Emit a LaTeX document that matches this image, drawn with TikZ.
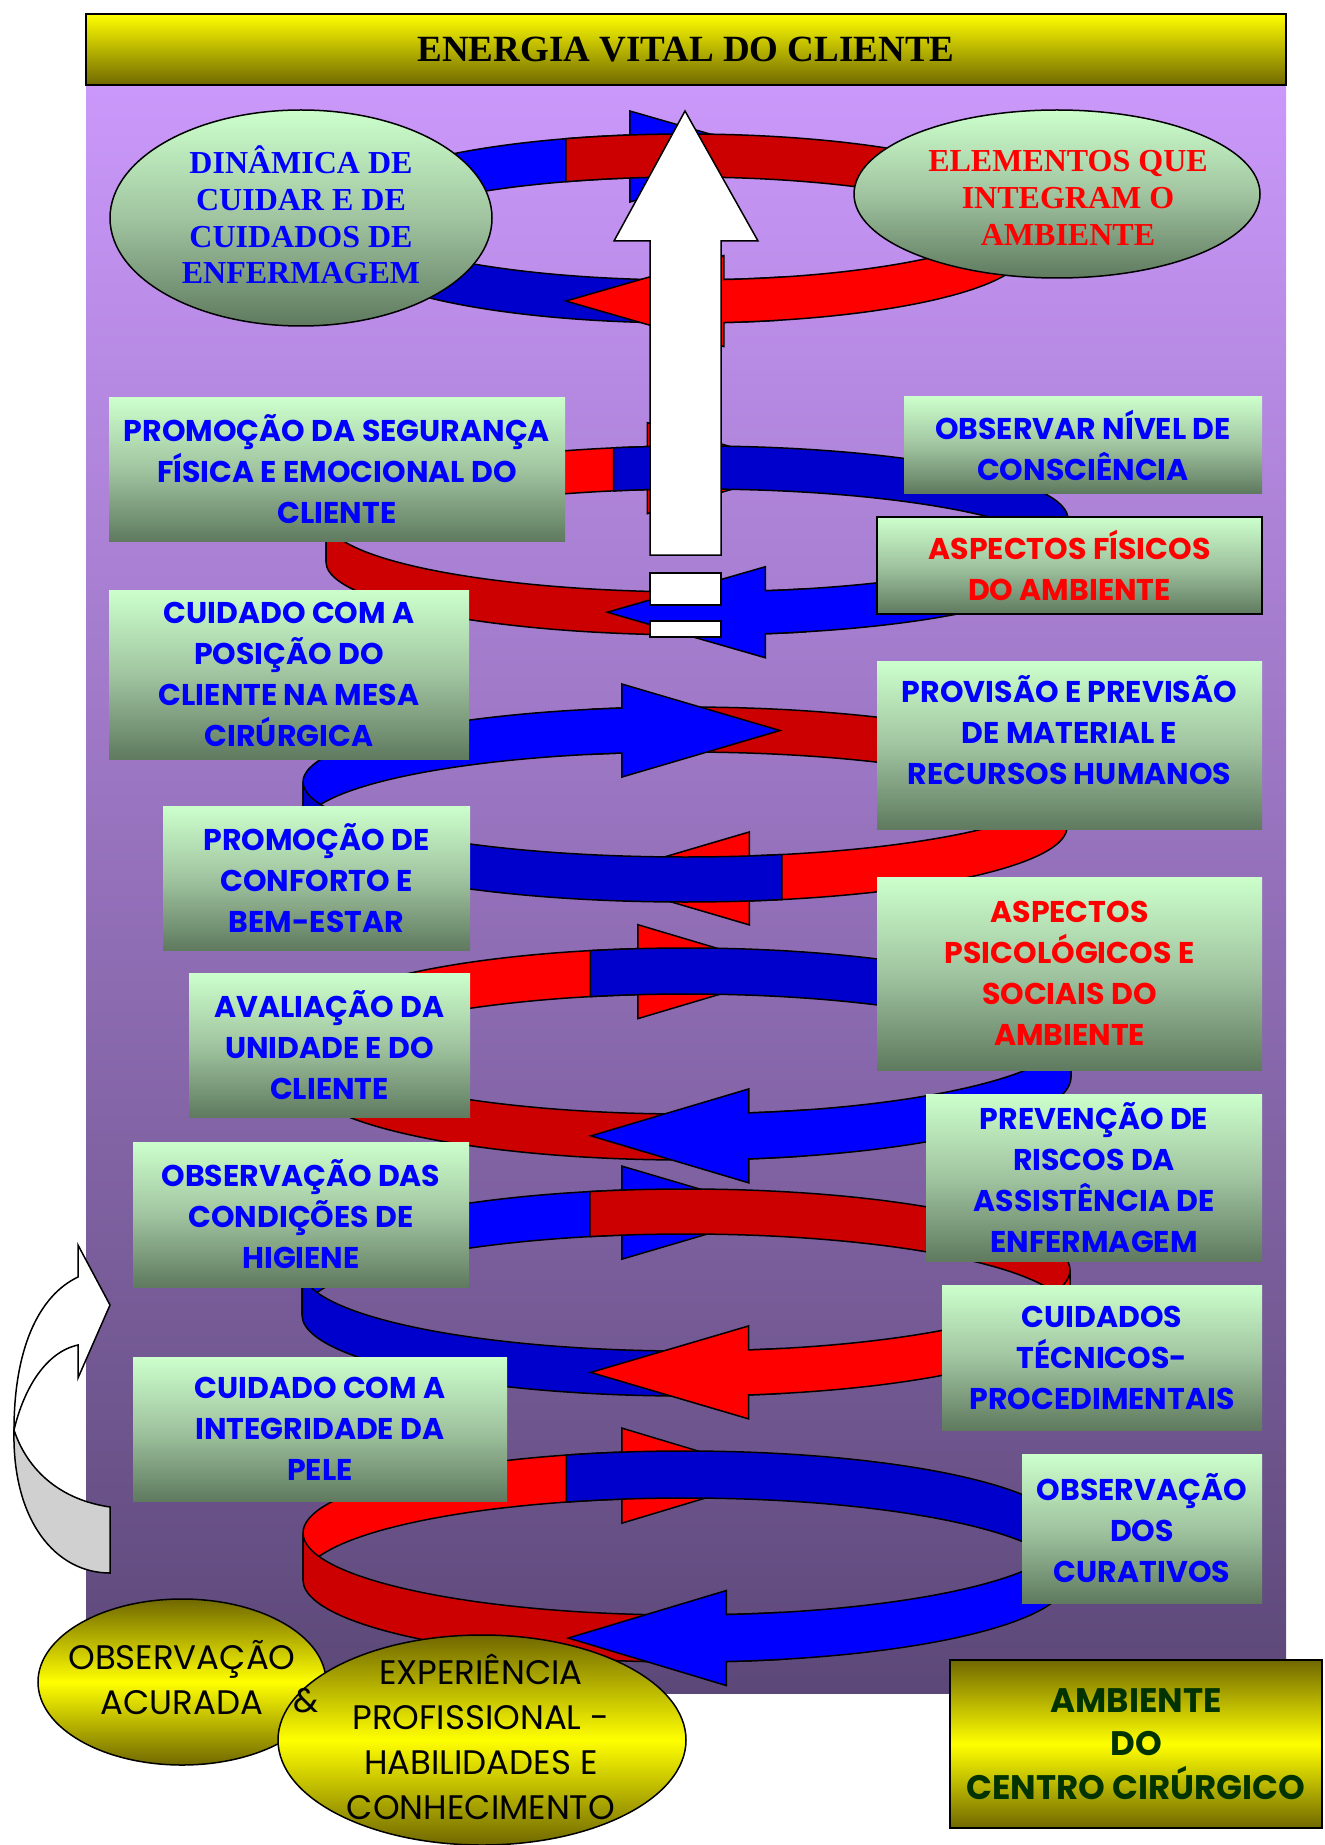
\documentclass[tikz,border=0pt]{standalone}
\usepackage{fontspec}
\setmainfont{Liberation Serif}
\newfontfamily\comicfont{Poppins}
\definecolor{grtop}{RGB}{204,255,204}
\definecolor{grmid}{RGB}{160,196,160}
\definecolor{grbot}{RGB}{95,122,95}
\definecolor{yeltop}{RGB}{255,255,0}
\definecolor{olive}{RGB}{112,104,0}
\definecolor{purtop}{RGB}{202,152,250}
\definecolor{purbot}{RGB}{92,72,120}
\definecolor{blueA}{RGB}{0,0,255}
\definecolor{blueB}{RGB}{0,0,204}
\definecolor{redA}{RGB}{255,0,0}
\definecolor{redB}{RGB}{204,0,0}
\definecolor{darkgreen}{RGB}{0,51,0}
\definecolor{lightgray}{RGB}{208,208,208}

% one loop of the spiral: centre, radii and height of the band
\newcommand{\setloop}[5]{\def\Lcx{#1}\def\Lcy{#2}\def\La{#3}\def\Lb{#4}\def\Lw{#5}}
\newcommand{\belt}[3]{%
  \draw[belt, fill=#3] ({\Lcx+\La*cos(#1)},{\Lcy+\Lb*sin(#1)})
    arc[start angle=#1, end angle=#2, x radius=\La, y radius=\Lb]
    -- ++(0,\Lw)
    arc[start angle=#2, end angle=#1, x radius=\La, y radius=\Lb] -- cycle;}
\newcommand{\beltarrow}[4]{%
  \draw[belt, fill=#3] ({\Lcx+\La*cos(#1)},{\Lcy+\Lb*sin(#1)})
    arc[start angle=#1, end angle=#2, x radius=\La, y radius=\Lb]
    -- ++(0,-24) -- ++({(#4)*158},{24+\Lw/2}) -- ++({(-1)*(#4)*158},{24+\Lw/2}) -- ++(0,-24)
    arc[start angle=#2, end angle=#1, x radius=\La, y radius=\Lb] -- cycle;}

\newcommand{\boxfont}{\comicfont\bfseries\fontsize{15}{20.5}\selectfont}

\begin{document}
\begin{tikzpicture}[x=0.5pt, y=-0.5pt,
    belt/.style={draw=black, line width=0.75pt, line join=miter},
    greenbox/.style={rectangle, inner sep=0pt, top color=grtop, bottom color=grbot,
      middle color=grmid, align=center, text=blueA, font=\boxfont},
    greenoval/.style={draw=black, line width=0.75pt, top color=grtop, bottom color=grbot,
      middle color=grmid},
    yellowoval/.style={draw=black, line width=0.75pt, top color=olive, bottom color=olive,
      middle color=yeltop},
    ovaltext/.style={align=center, font=\bfseries\fontsize{16}{18.4}\selectfont},
    whitearrow/.style={draw=black, line width=0.75pt, fill=white}]
  \useasboundingbox (0,0) rectangle (1324,1845);

  % Background
  \shade[top color=purtop, bottom color=purbot] (86,85) rectangle (1286,1693);
  \node[draw=black, line width=1pt, minimum width=600pt, minimum height=35.5pt,
    top color=yeltop, bottom color=olive,
    font=\bfseries\fontsize{18.5}{22}\selectfont] (energia) at (686,49.5) {ENERGIA VITAL DO CLIENTE};

  % Spiral
  \setloop{686}{207}{340}{73}{43}
  \beltarrow{180}{260.5}{blueA}{1}
  \belt{249.3}{360}{redB}
  \belt{73.8}{180}{blueB}
  \beltarrow{360}{443.6}{redA}{-1}

  \setloop{697}{519}{371}{73}{43}
  \beltarrow{180}{262.3}{redA}{1}
  \belt{257}{360}{blueB}
  \belt{73}{180}{redB}
  \beltarrow{360}{439.4}{blueA}{-1}

  \setloop{685}{782}{382}{75}{45}
  \belt{255.6}{360}{redB}
  \beltarrow{180}{260.5}{blueA}{1}
  \beltarrow{360}{440.3}{redA}{-1}
  \belt{75.3}{180}{blueB}

  \setloop{686}{1031}{385}{83}{46}
  \beltarrow{180}{262.8}{redA}{1}
  \belt{255.6}{360}{blueB}
  \belt{72}{180}{redB}
  \beltarrow{360}{440.6}{blueA}{-1}

  \setloop{686}{1270}{384}{81}{45}
  \beltarrow{180}{260.4}{blueA}{1}
  \belt{255.5}{360}{redB}
  \belt{75.7}{180}{blueB}
  \beltarrow{360}{440.6}{redA}{-1}

  \setloop{685}{1533}{382}{82}{47}
  \beltarrow{180}{260.5}{redA}{1}
  \belt{251.9}{360}{blueB}
  \belt{75.5}{180}{redB}
  \beltarrow{360}{443.8}{blueA}{-1}

  % Energy arrow
  \draw[whitearrow] (685,111) -- (758,241) -- (721,241) -- (721,555) -- (650,555)
    -- (650,241) -- (614,241) -- cycle;
  \draw[whitearrow] (650,573) rectangle (721,605);
  \draw[whitearrow] (650,621) rectangle (721,637);

  % Top ellipses
  \draw[greenoval] (301,218) ellipse[x radius=191, y radius=108];
  \node[ovaltext, text=blueA] (dinamica) at (301,215) {DINÂMICA DE\\CUIDAR E DE\\CUIDADOS DE\\ENFERMAGEM};
  \draw[greenoval] (1057,194) ellipse[x radius=203, y radius=84];
  \node[ovaltext, text=redA] (elementos) at (1068,198) {ELEMENTOS QUE\\INTEGRAM O\\AMBIENTE};

  % Left boxes
  \node[greenbox, minimum width=228pt, minimum height=71.5pt] (seguranca) at (337,469.5)
    {PROMOÇÃO DA SEGURANÇA\\FÍSICA E EMOCIONAL DO\\CLIENTE};
  \node[greenbox, minimum width=180pt, minimum height=84.5pt] (posicao) at (289,674.5)
    {CUIDADO COM A\\POSIÇÃO DO\\CLIENTE NA MESA\\CIRÚRGICA};
  \node[greenbox, minimum width=153.5pt, minimum height=72pt] (conforto) at (316.5,878)
    {PROMOÇÃO DE\\CONFORTO E\\BEM-ESTAR};
  \node[greenbox, minimum width=140.5pt, minimum height=72pt] (avaliacao) at (329.5,1045)
    {AVALIAÇÃO DA\\UNIDADE E DO\\CLIENTE};
  \node[greenbox, minimum width=168pt, minimum height=72.5pt] (higiene) at (301,1214.5)
    {OBSERVAÇÃO DAS\\CONDIÇÕES DE\\HIGIENE};
  \node[greenbox, minimum width=187pt, minimum height=72pt] (pele) at (320,1429)
    {CUIDADO COM A\\INTEGRIDADE DA\\PELE};

  % Right boxes
  \node[greenbox, minimum width=179pt, minimum height=48pt] (consciencia) at (1083,445)
    {OBSERVAR NÍVEL DE\\CONSCIÊNCIA};
  \node[greenbox, draw=black, line width=1pt, text=redA, minimum width=192.5pt,
    minimum height=48.5pt] (fisicos) at (1069.5,565.5) {ASPECTOS FÍSICOS\\DO AMBIENTE};
  \node[greenbox, minimum width=192.5pt, minimum height=84pt] (provisao) at (1069.5,745)
    {PROVISÃO E PREVISÃO\\DE MATERIAL E\\RECURSOS HUMANOS\\[-6pt]\mbox{}};
  \node[greenbox, text=redA, minimum width=192.5pt, minimum height=96.5pt] (psicologicos) at (1069.5,973.5)
    {ASPECTOS\\PSICOLÓGICOS E\\SOCIAIS DO\\AMBIENTE};
  \node[greenbox, minimum width=168pt, minimum height=83.5pt] (riscos) at (1094,1177.5)
    {PREVENÇÃO DE\\RISCOS DA\\ASSISTÊNCIA DE\\ENFERMAGEM};
  \node[greenbox, minimum width=160pt, minimum height=72.5pt] (tecnicos) at (1102,1357.5)
    {CUIDADOS\\TÉCNICOS-\\PROCEDIMENTAIS};
  \node[greenbox, minimum width=120pt, minimum height=74.5pt] (curativos) at (1142,1528.5)
    {OBSERVAÇÃO\\DOS\\CURATIVOS};

  % Cycle arrow on the left
  \draw[whitearrow] (78,1277) .. controls (38,1296) and (14,1350) .. (14,1430)
    .. controls (24,1388) and (46,1352) .. (78,1345) -- (78,1378) -- (110,1305)
    -- (78,1245) -- cycle;
  \draw[draw=black, line width=0.75pt, fill=lightgray] (14,1430)
    .. controls (12,1520) and (55,1573) .. (110,1573) -- (110,1507)
    .. controls (62,1500) and (28,1472) .. (14,1430) -- cycle;

  % Bottom
  \draw[yellowoval] (182,1682) ellipse[x radius=144, y radius=83];
  \node[align=center, font=\comicfont\fontsize{17}{22.5}\selectfont] (acurada) at (182,1678)
    {OBSERVAÇÃO\\ACURADA};
  \draw[yellowoval] (482,1740) ellipse[x radius=204, y radius=105];
  \node[font=\comicfont\fontsize{17}{22.5}\selectfont] (e) at (306,1701) {\&};
  \node[align=center, font=\comicfont\fontsize{17}{22.5}\selectfont] (experiencia) at (481,1737)
    {EXPERIÊNCIA\\PROFISSIONAL -\\HABILIDADES E\\CONHECIMENTO};
  \node[draw=black, line width=1pt, minimum width=186pt, minimum height=84pt,
    top color=olive, bottom color=olive, middle color=yeltop, align=center,
    text=darkgreen, font=\comicfont\bfseries\fontsize{17}{21.75}\selectfont] (ambiente) at (1136,1744)
    {AMBIENTE\\DO\\CENTRO CIRÚRGICO};
\end{tikzpicture}
\end{document}
